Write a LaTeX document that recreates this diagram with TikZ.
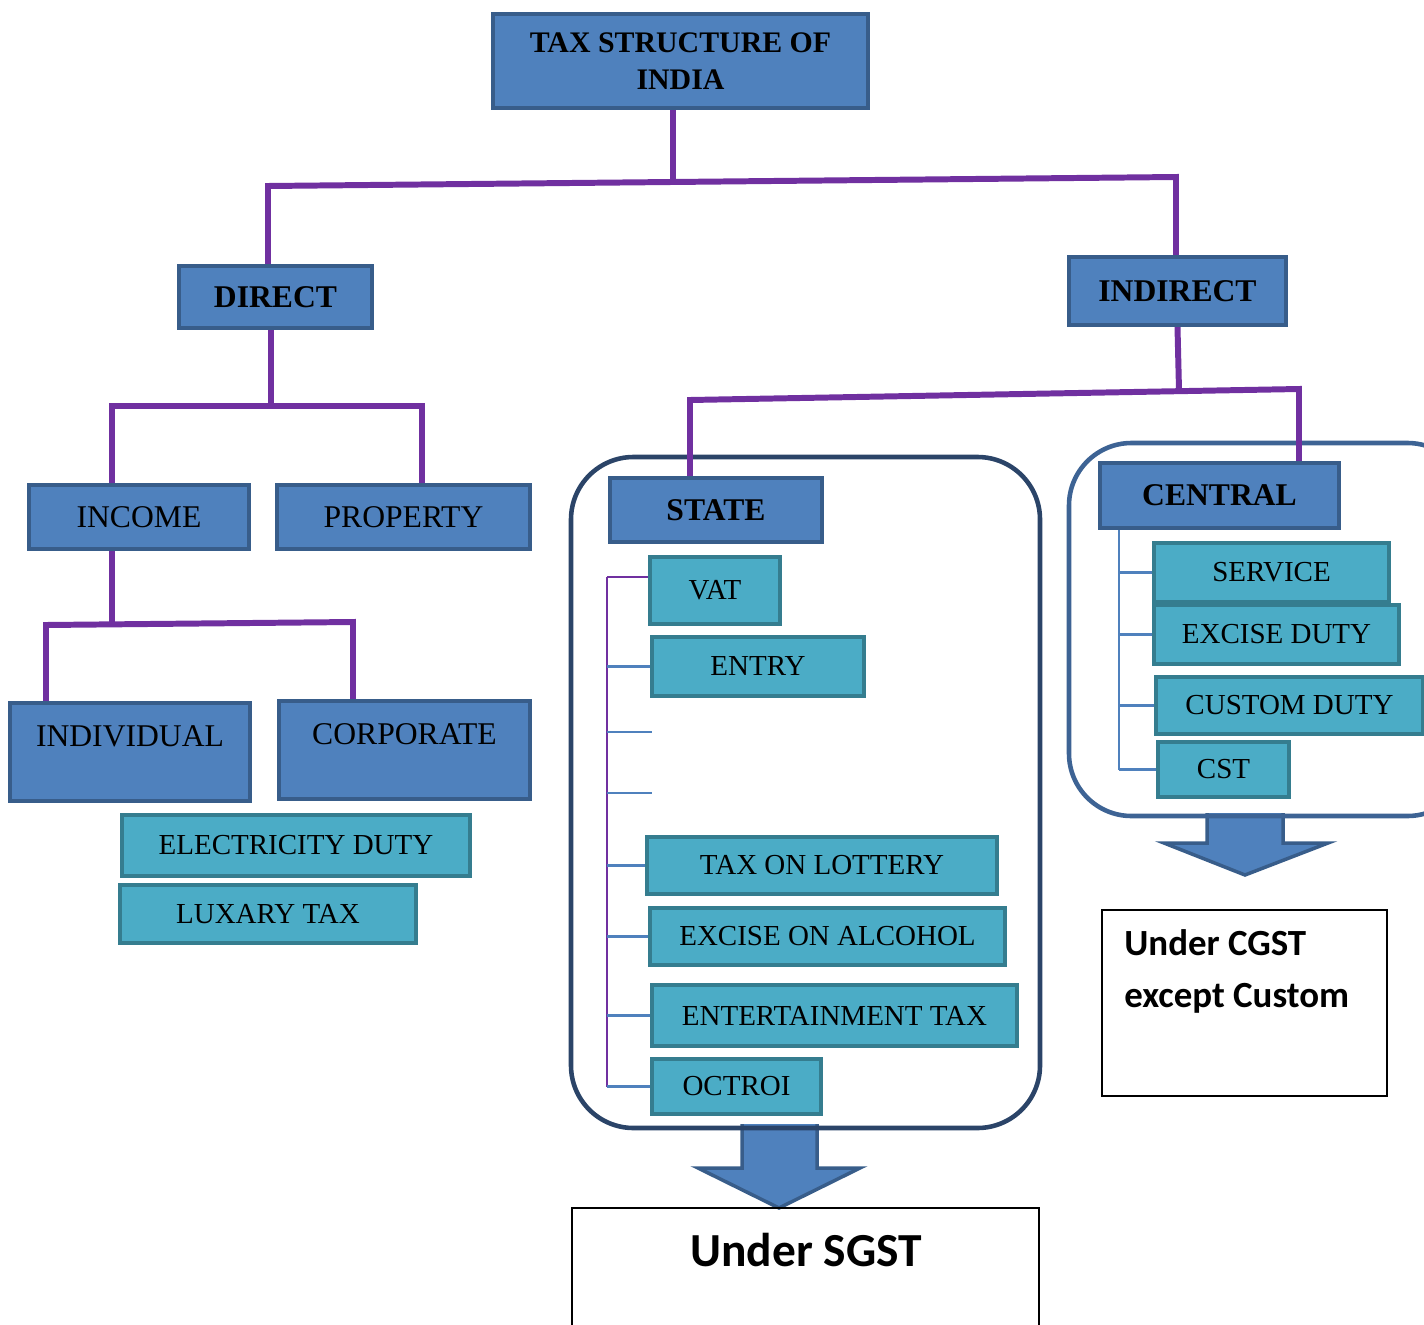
\documentclass[tikz,border=0pt]{standalone}
\usepackage{fontspec}
\setmainfont{Liberation Serif}
\newfontfamily\calibri{Carlito}
\usepackage{tikz}
\usetikzlibrary{fit, calc, backgrounds}

\definecolor{boxblue}{HTML}{4F81BD}
\definecolor{boxline}{HTML}{385D8A}
\definecolor{tealfill}{HTML}{4BACC6}
\definecolor{tealline}{HTML}{357D8F}
\definecolor{treepurple}{HTML}{7030A0}
\definecolor{statering}{HTML}{2B4468}
\definecolor{centralring}{HTML}{3D6394}

\tikzset{
  boxspan/.style n args={4}{at={({(#1+#3)/2},{(#2+#4)/2})}, minimum width={(#3-#1)*0.02cm}, minimum height={(#4-#2)*0.02cm}},
  bluebox/.style={draw=boxline, fill=boxblue, line width=2.3pt, inner sep=0pt, font=\fontsize{18}{21}\selectfont},
  headbox/.style={bluebox, font=\bfseries\fontsize{18}{21}\selectfont},
  tealbox/.style={draw=tealline, fill=tealfill, line width=2.3pt, inner sep=0pt, font=\fontsize{16.5}{20}\selectfont},
  tree/.style={draw=treepurple, line width=3.4pt},
  spine/.style={draw=treepurple, line width=1.7pt},
  tick/.style={draw=boxblue, line width=1.3pt},
  ring/.style={line width=2.6pt, rounded corners=1.25cm, inner sep=0pt},
  gstbox/.style={draw=black, line width=1.1pt, inner sep=0pt},
  bigarrow/.style={draw=boxline, fill=boxblue, line width=2pt},
}

\begin{document}
\begin{tikzpicture}[x=0.02cm, y=-0.02cm]
                \useasboundingbox (0,0) rectangle (1424,1325);
                \clip (0,0) rectangle (1424,1325);
                % Top of the tree
                \node[headbox, font=\bfseries\fontsize{17}{21.5}\selectfont, align=center, text depth=-4pt, boxspan={493}{14}{868}{108}] (title) {TAX STRUCTURE OF\\INDIA};
                \node[headbox, boxspan={179}{266}{372}{328}] (direct) {DIRECT};
                \node[headbox, boxspan={1069}{257}{1286}{325}] (indirect) {INDIRECT};
                % Direct side
                \node[bluebox, boxspan={29}{485}{249}{549}] (income) {INCOME};
                \node[bluebox, boxspan={277}{485}{530}{549}] (property) {PROPERTY};
                \node[bluebox, text depth=18pt, boxspan={10}{703}{250}{801}] (individual) {INDIVIDUAL};
                \node[bluebox, text depth=18pt, boxspan={279}{701}{530}{799}] (corporate) {CORPORATE};
                \node[tealbox, boxspan={122}{815}{470}{876}] (electricity) {ELECTRICITY DUTY};
                \node[tealbox, boxspan={120}{885}{416}{943}] (luxary) {LUXARY TAX};
                % State side
                \node[headbox, boxspan={610}{478}{822}{542}] (state) {STATE};
                \node[tealbox, boxspan={650}{557}{780}{624}] (vat) {VAT};
                \node[tealbox, boxspan={652}{637}{864}{696}] (entry) {ENTRY};
                \node[tealbox, boxspan={647}{837}{997}{894}] (lottery) {TAX ON LOTTERY};
                \node[tealbox, boxspan={650}{908}{1005}{965}] (alcohol) {EXCISE ON ALCOHOL};
                \node[tealbox, boxspan={652}{985}{1017}{1046}] (entertainment) {ENTERTAINMENT TAX};
                \node[tealbox, boxspan={652}{1059}{821}{1114}] (octroi) {OCTROI};
                % Central side
                \node[headbox, boxspan={1100}{463}{1339}{528}] (central) {CENTRAL};
                \node[tealbox, boxspan={1154}{543}{1389}{602}] (service) {SERVICE};
                \node[tealbox, boxspan={1154}{605}{1399}{664}] (excise) {EXCISE DUTY};
                \node[tealbox, boxspan={1156}{677}{1423}{734}] (custom) {CUSTOM DUTY};
                \node[tealbox, boxspan={1158}{742}{1289}{797}] (cst) {CST};
                % GST boxes
                \node[gstbox, fit={(1102,910) (1387,1096)}] (cgst) {};
                \node[anchor=north west, inner sep=0pt, align=left, font=\calibri\bfseries\fontsize{21}{30}\selectfont] (cgsttext) at (1124,929) {Under CGST\\except Custom};
                \node[gstbox, fit={(572,1208) (1039,1345)}] (sgst) {};
                \node[anchor=base, inner sep=0pt, font=\calibri\bfseries\fontsize{27}{32}\selectfont] (sgsttext) at (806,1266) {Under SGST};
                \begin{scope}[on background layer]
                % Arrows
                \draw[bigarrow] (742,1124) -- (742,1168) -- (698,1168) -- (779,1208) -- (860,1168) -- (817,1168) -- (817,1124);
                \draw[bigarrow] (1207,813) -- (1207,843) -- (1164,843) -- (1245,875) -- (1328,843) -- (1283,843) -- (1283,813);
                % Rings
                \node[ring, draw=statering, fit={(571,457) (1040,1128)}] (statering) {};
                \node[ring, draw=centralring, fit={(1069,443) (1470,816)}] (centralring) {};
                % Tree
                \coordinate (j0) at (673,182);
                \coordinate (tl) at (268,186);
                \coordinate (tr) at (1176,177);
                \draw[tree] (title.south -| j0) -- (j0);
                \draw[tree] (tl |- direct.north) -- (tl) -- (tr) -- (tr |- indirect.north);
                \coordinate (dm) at (271,406);
                \coordinate (dl) at (112,406);
                \coordinate (dr) at (422,406);
                \draw[tree] (dm |- direct.south) -- (dm);
                \draw[tree] (dl |- income.north) -- (dl) -- (dr) -- (dr |- property.north);
                \coordinate (il) at (46,625);
                \coordinate (ir) at (353,622);
                \draw[tree] (dl |- income.south) -- (dl |- il);
                \draw[tree] (il |- individual.north) -- (il) -- (ir) -- (ir |- corporate.north);
                \coordinate (sm) at (1179,390);
                \coordinate (sl) at (690,400);
                \coordinate (sr) at (1299,389);
                \draw[tree] (indirect.south) -- (sm);
                \draw[tree] (sl |- state.north) -- (sl) -- (sr) -- (sr |- central.north);
                % State list
                \coordinate (stop) at (607,577);
                \coordinate (blank1) at (652,732);
                \coordinate (blank2) at (652,793);
                \draw[spine] (stop) -- (stop |- octroi.west);
                \draw[spine] (stop) -- (stop -| vat.west);
                \foreach \n in {entry,lottery,alcohol,entertainment,octroi}
                  \draw[tick] (stop |- \n.west) -- (\n.west);
                \foreach \n in {blank1,blank2}
                  \draw[tick] (stop |- \n) -- (\n);
                % Central list
                \coordinate (ctop) at (1119,528);
                \draw[tick] (ctop) -- (ctop |- cst.west);
                \foreach \n in {service,excise,custom,cst}
                  \draw[tick] (ctop |- \n.west) -- (\n.west);
                \end{scope}
\end{tikzpicture}
\end{document}
